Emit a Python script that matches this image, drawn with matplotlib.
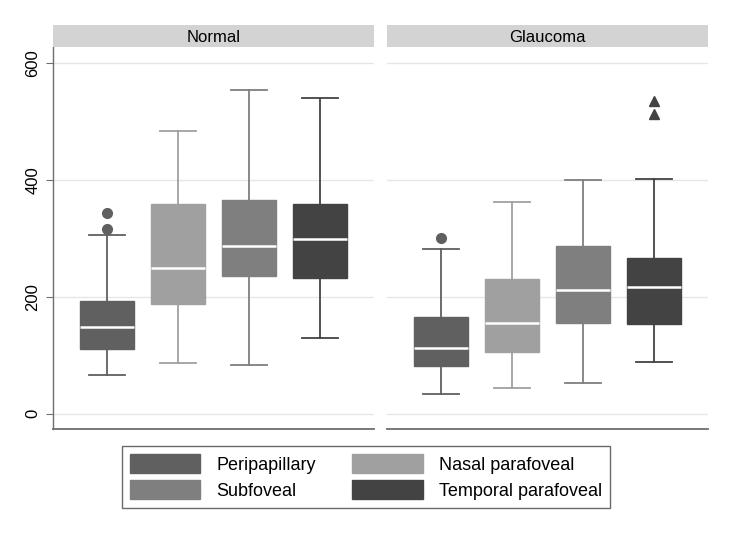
import numpy as np
import matplotlib.pyplot as plt
from matplotlib.patches import Patch

plt.rcParams['font.family'] = ['Liberation Sans', 'DejaVu Sans']

regions = ["Peripapillary", "Nasal parafoveal", "Subfoveal", "Temporal parafoveal"]
colors = ["#606060", "#a0a0a0", "#7f7f7f", "#434343"]
panels = ["Normal", "Glaucoma"]

# five-number summaries: low whisker, q1, median, q3, high whisker
normal_low = [66, 87, 84, 129]
normal_q1 = [111, 187, 235, 232]
normal_med = [149, 250, 287, 299]
normal_q3 = [193, 358, 366, 358]
normal_high = [306, 484, 554, 540]
normal_out = [[316, 343], [], [], []]

glaucoma_low = [34, 44, 52, 89]
glaucoma_q1 = [82, 105, 155, 153]
glaucoma_med = [112, 156, 212, 216]
glaucoma_q3 = [166, 230, 286, 266]
glaucoma_high = [282, 362, 399, 401]
glaucoma_out = [[301], [], [], [512, 534]]

out_markers = ["o", "o", "o", "^"]

data = {
    "Normal": (normal_low, normal_q1, normal_med, normal_q3, normal_high, normal_out),
    "Glaucoma": (glaucoma_low, glaucoma_q1, glaucoma_med, glaucoma_q3, glaucoma_high, glaucoma_out),
}

W, H = 733, 533
fig = plt.figure(figsize=(W / 100, H / 100), dpi=100)

lefts = [53, 387]
pw = 321
top, bottom = 47, 429

for i, name in enumerate(panels):
    ax = fig.add_axes([lefts[i] / W, 1 - bottom / H, pw / W, (bottom - top) / H])
    lo, q1, med, q3, hi, outs = data[name]
    for j in range(4):
        stats = [dict(whislo=lo[j], q1=q1[j], med=med[j], q3=q3[j], whishi=hi[j], fliers=outs[j])]
        c = colors[j]
        ax.bxp(stats, positions=[j + 1], widths=0.76, patch_artist=True,
               boxprops=dict(facecolor=c, edgecolor=c, linewidth=1),
               medianprops=dict(color="white", linewidth=1.8),
               whiskerprops=dict(color=c, linewidth=1.3),
               capprops=dict(color=c, linewidth=1.3),
               capwidths=0.5,
               flierprops=dict(marker=out_markers[j], markerfacecolor=c, markeredgecolor=c,
                               markersize=7),
               manage_ticks=False, zorder=3)
    ax.set_xlim(0.24, 4.76)
    ax.set_ylim(-26, 627)
    ax.set_yticks([0, 200, 400, 600])
    ax.grid(axis="y", color="#e6e6e6", linewidth=1)
    ax.set_axisbelow(True)
    ax.set_xticks([])
    for s in ["top", "right"]:
        ax.spines[s].set_visible(False)
    ax.spines["bottom"].set_color("#6e6e6e")
    ax.spines["bottom"].set_linewidth(1.3)
    if i == 0:
        ax.spines["left"].set_color("#6e6e6e")
        ax.spines["left"].set_linewidth(1.0)
        ax.tick_params(axis="y", colors="#6e6e6e", labelcolor="black", labelsize=12,
                       length=5, pad=4, labelrotation=90)
        for lab in ax.get_yticklabels():
            lab.set_verticalalignment("center")
    else:
        ax.spines["left"].set_visible(False)
        ax.tick_params(axis="y", left=False, labelleft=False)

    strip = fig.add_axes([lefts[i] / W, 1 - top / H + 0.0, pw / W, 22 / H])
    strip.set_facecolor("#d3d3d3")
    strip.set_xticks([])
    strip.set_yticks([])
    for s in strip.spines.values():
        s.set_visible(False)
    strip.text(0.5, 0.45, name, ha="center", va="center", fontsize=12, transform=strip.transAxes)

handles = [Patch(facecolor=colors[k], edgecolor=colors[k]) for k in [0, 2, 1, 3]]
labels = [regions[k] for k in [0, 2, 1, 3]]
leg = fig.legend(handles, labels, ncol=2, loc="center", bbox_to_anchor=(366 / W, 1 - 477 / H),
                 fontsize=13, frameon=True, fancybox=False, edgecolor="#444444",
                 handlelength=3.9, handleheight=1.2, columnspacing=2.0, handletextpad=0.9,
                 labelspacing=0.35, borderpad=0.45)
leg.get_frame().set_linewidth(1.0)

fig.savefig("out.png", dpi=100)
